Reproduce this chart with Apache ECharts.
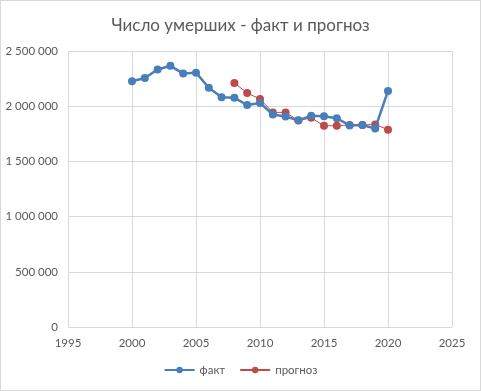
<!DOCTYPE html>
<html><head><meta charset="utf-8">
<script src="https://cdn.jsdelivr.net/npm/echarts@6/dist/echarts.min.js"></script>
<style>html,body{margin:0;padding:0;background:#fff}#c{width:481px;height:391px;box-sizing:border-box;border:1px solid #d9d9d9}</style>
</head><body><div id="c"></div>
<script>
const title = 'Число умерших - факт и прогноз';
const factYears = [2000,2001,2002,2003,2004,2005,2006,2007,2008,2009,2010,2011,2012,2013,2014,2015,2016,2017,2018,2019,2020];
const factValues = [2225332,2254856,2332272,2365826,2295402,2303935,2166703,2080445,2075954,2010543,2028516,1925720,1906335,1871809,1913613,1908541,1891015,1826125,1828910,1798307,2138586];
const forecastYears = [2008,2009,2010,2011,2012,2013,2014,2015,2016,2017,2018,2019,2020];
const forecastValues = [2210000,2120000,2065000,1944000,1944000,1870000,1895000,1823000,1823000,1830000,1830000,1835000,1787000];
const seriesNames = ['факт','прогноз'];

const fmt = v => String(v).replace(/\B(?=(\d{3})+(?!\d))/g, ' ');
const font = 'Lato, "Liberation Sans", sans-serif';
const chart = echarts.init(document.getElementById('c'), null, {renderer:'canvas'});
chart.setOption({
  animation:false,
  textStyle:{fontFamily:font},
  title:{text:title,left:'center',top:11,textStyle:{fontFamily:font,fontSize:17,fontWeight:'normal',color:'#595959'}},
  legend:{bottom:9,left:'center',itemWidth:30,itemHeight:8,itemGap:14,textStyle:{fontFamily:font,fontSize:11.5,color:'#595959'},data:seriesNames},
  grid:{left:67,right:28,top:50,bottom:63,containLabel:false},
  xAxis:{type:'value',min:1995,max:2025,interval:5,
    axisLine:{show:false},axisTick:{show:false},
    axisLabel:{color:'#595959',fontSize:11.5,margin:10,fontFamily:font,formatter:v=>String(v)},
    splitLine:{lineStyle:{color:'#d9d9d9'}}},
  yAxis:{type:'value',min:0,max:2500000,interval:500000,
    axisLine:{show:false},axisTick:{show:false},
    axisLabel:{color:'#595959',fontSize:11.5,margin:10,fontFamily:font,formatter:fmt},
    splitLine:{lineStyle:{color:'#d9d9d9'}}},
  series:[
    {name:seriesNames[0],type:'line',data:factYears.map((y,i)=>[y,factValues[i]]),
     symbol:'circle',symbolSize:8,itemStyle:{color:'#4a7ebb'},lineStyle:{width:2.5,color:'#4a7ebb'},z:3},
    {name:seriesNames[1],type:'line',data:forecastYears.map((y,i)=>[y,forecastValues[i]]),
     symbol:'circle',symbolSize:8,itemStyle:{color:'#be4b48'},lineStyle:{width:1,color:'#be4b48'},z:2}
  ]
});
</script></body></html>
